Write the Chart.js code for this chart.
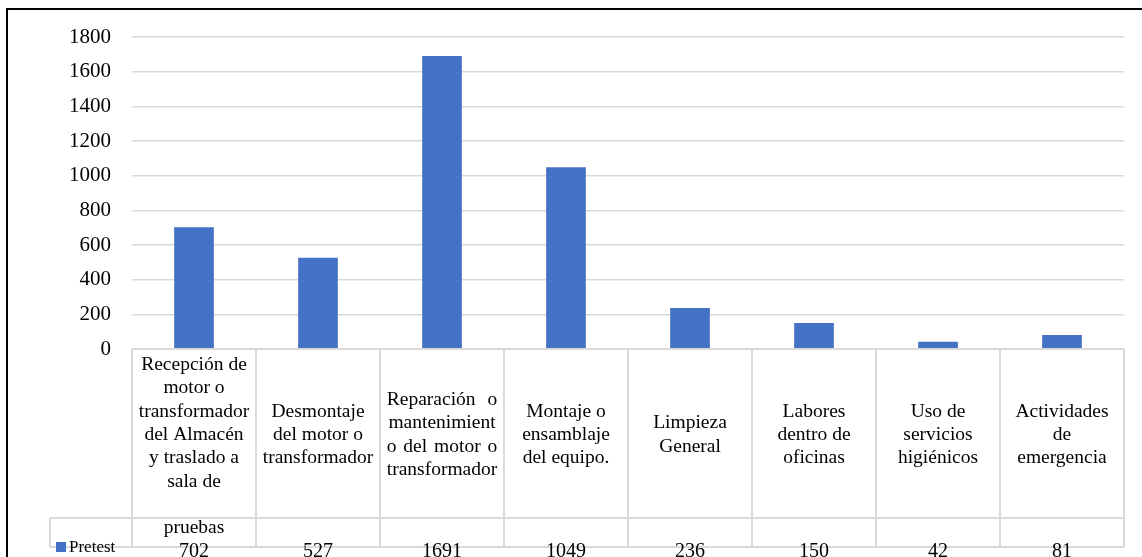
<!DOCTYPE html>
<html lang="es">
<head>
<meta charset="utf-8">
<title>Pretest</title>
<script src="https://cdn.jsdelivr.net/npm/chart.js@4.4.1/dist/chart.umd.min.js"></script>
<style>
  html, body { margin: 0; padding: 0; background: #fff; overflow: hidden; }
  #wrap { position: relative; width: 1142px; height: 557px; }
  #frame { position: absolute; left: 6px; top: 8px; width: 2000px; height: 2000px;
           border-left: 2px solid #000; border-top: 2px solid #000; }
  canvas { position: absolute; left: 0; top: 0; }
</style>
</head>
<body>
<div id="wrap">
  <div id="frame"></div>
  <canvas id="chart"></canvas>
</div>
<script>
const categorias = [
  ["Recepción de", "motor o", "transformador", "del Almacén", "y traslado a", "sala de", "", "pruebas"],
  ["Desmontaje", "del motor o", "transformador"],
  ["Reparación o", "mantenimient", "o del motor o", "transformador"],
  ["Montaje o", "ensamblaje", "del equipo."],
  ["Limpieza", "General"],
  ["Labores", "dentro de", "oficinas"],
  ["Uso de", "servicios", "higiénicos"],
  ["Actividades", "de", "emergencia"],
];
const justificadas = [2]; // celda con texto justificado en el original
const serieNombre = "Pretest";
const pretest = [702, 527, 1691, 1049, 236, 150, 42, 81];
const yTicks = ["0", "200", "400", "600", "800", "1000", "1200", "1400", "1600", "1800"];

const AZUL = "#4472C4";
const LINEA = "#d9d9d9";
const SERIF = "'Liberation Serif', 'Times New Roman', serif";

// escribe una línea repartiendo el espacio sobrante entre palabras
function lineaJustificada(ctx, texto, cx, y, ancho) {
  const palabras = texto.split(" ");
  if (palabras.length < 2) { ctx.fillText(texto, cx, y); return; }
  const anchos = palabras.map((p) => ctx.measureText(p).width);
  const total = anchos.reduce((a, b) => a + b, 0);
  const hueco = (ancho - total) / (palabras.length - 1);
  let xx = cx - ancho / 2;
  ctx.save();
  ctx.textAlign = "left";
  palabras.forEach((p, k) => { ctx.fillText(p, xx, y); xx += anchos[k] + hueco; });
  ctx.restore();
}

// tabla de datos debajo del eje (estilo Excel)
const tablaDatos = {
  id: "tablaDatos",
  afterDraw(chart) {
    const { ctx, chartArea } = chart;
    const x = chart.scales.x;
    const n = categorias.length;
    const paso = x.getPixelForValue(1) - x.getPixelForValue(0);
    const izq = x.getPixelForValue(0) - paso / 2;
    const der = x.getPixelForValue(n - 1) + paso / 2;
    const top = chartArea.bottom;
    const filaDatos = top + 169;
    const fondo = filaDatos + 29;
    const leyIzq = 50;

    ctx.save();
    ctx.strokeStyle = LINEA;
    ctx.lineWidth = 2;
    ctx.beginPath();
    ctx.moveTo(izq, top); ctx.lineTo(der, top);
    ctx.moveTo(leyIzq, filaDatos); ctx.lineTo(der, filaDatos);
    ctx.moveTo(leyIzq, fondo); ctx.lineTo(der, fondo);
    ctx.moveTo(leyIzq, filaDatos); ctx.lineTo(leyIzq, fondo);
    for (let i = 0; i <= n; i++) {
      const xx = izq + i * paso;
      ctx.moveTo(xx, top); ctx.lineTo(xx, fondo);
    }
    ctx.stroke();

    // textos de categorías, centrados en la celda
    ctx.fillStyle = "#000";
    ctx.textAlign = "center";
    ctx.textBaseline = "alphabetic";
    ctx.font = `19.5px ${SERIF}`;
    const lh = 23.3;
    const centro = top + 91;
    categorias.forEach((lineas, i) => {
      const cx = x.getPixelForValue(i);
      const m = Math.min(lineas.length, 7);
      const ancho = Math.max(...lineas.map((t) => ctx.measureText(t).width));
      lineas.forEach((t, j) => {
        const y = centro + (j - (m - 1) / 2) * lh;
        if (justificadas.includes(i) && j < lineas.length - 1) lineaJustificada(ctx, t, cx, y, ancho);
        else ctx.fillText(t, cx, y);
      });
    });

    // valores
    ctx.font = `20px ${SERIF}`;
    pretest.forEach((v, i) => {
      ctx.fillText(String(v), x.getPixelForValue(i), fondo + 10);
    });

    // leyenda en la fila
    ctx.fillStyle = AZUL;
    ctx.fillRect(56, fondo - 5, 10, 10);
    ctx.fillStyle = "#000";
    ctx.textAlign = "left";
    ctx.font = `17px ${SERIF}`;
    ctx.fillText(serieNombre, 69, fondo + 5);
    ctx.restore();
  },
};

new Chart(document.getElementById("chart"), {
  type: "bar",
  data: {
    labels: categorias,
    datasets: [
      {
        label: serieNombre,
        data: pretest,
        backgroundColor: AZUL,
        borderWidth: 0,
        barPercentage: 0.32,
        categoryPercentage: 1,
      },
    ],
  },
  options: {
    responsive: true,
    maintainAspectRatio: false,
    animation: false,
    layout: { padding: { top: 37, right: 18, bottom: 208, left: 0 } },
    plugins: { legend: { display: false }, tooltip: { enabled: false } },
    scales: {
      x: { display: false, offset: true },
      y: {
        min: 0,
        max: 1800,
        afterFit: (s) => { s.width = 132; },
        border: { display: false },
        grid: { color: LINEA, lineWidth: 1.5, drawTicks: false },
        ticks: {
          stepSize: 200,
          padding: 21,
          color: "#000",
          font: { family: SERIF, size: 21 },
          callback: (v, i) => yTicks[i],
        },
      },
    },
  },
  plugins: [tablaDatos],
});
</script>
</body>
</html>
